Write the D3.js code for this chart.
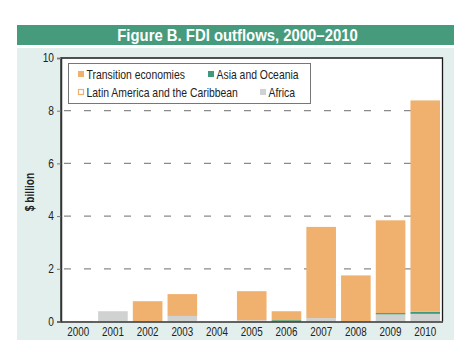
<!DOCTYPE html>
<html>
<head>
<meta charset="utf-8">
<script src="https://cdn.jsdelivr.net/npm/d3@7"></script>
<style>
  body { margin: 0; background: #fff; }
  text { font-family: "Liberation Sans Narrow", "Arial Narrow", "Liberation Sans", sans-serif; }
</style>
</head>
<body>
<div id="chart"></div>
<script>
// DATA
let years = ['2000', '2001', '2002', '2003', '2004', '2005', '2006', '2007', '2008', '2009', '2010'];
let transition = [0.02, 0, 0.77, 0.83, 0, 1.10, 0.34, 3.46, 1.75, 3.52, 8.02];
let asia = [0, 0, 0, 0, 0, 0, 0.05, 0, 0, 0.05, 0.08];
let latam = [0, 0, 0, 0, 0, 0, 0, 0, 0, 0, 0];
let africa = [0, 0.39, 0, 0.21, 0, 0.05, 0, 0.13, 0, 0.27, 0.29];
let yTicks = [0, 2, 4, 6, 8, 10];

let seriesNames = ['Africa', 'Latin America and the Caribbean', 'Asia and Oceania', 'Transition economies'];
let colors = {
    'Transition economies': '#f0b16e',
    'Asia and Oceania': '#3e9a78',
    'Latin America and the Caribbean': '#f0b16e',
    'Africa': '#d0d1d1'
};

let width = 470, height = 362;
let plot = {left: 61, right: 442.5, top: 58, bottom: 321.5};

// squeeze text horizontally, since no narrow font is installed
function condense(sel, k) {
    sel.each(function() {
        let t = d3.select(this);
        let x0 = +t.attr('x') || 0;
        t.attr('x', x0 / k)
            .attr('transform', (t.attr('transform') || '') + ` scale(${k},1)`);
    });
}

let svg = d3.select('#chart').append('svg')
    .attr('width', width)
    .attr('height', height);

// title banner + panel
svg.append('rect').attr('x', 17).attr('y', 25).attr('width', 437).attr('height', 20).attr('fill', '#469b7d');
svg.append('text')
    .attr('transform', 'translate(237.5,40.5)')
    .attr('text-anchor', 'middle')
    .attr('fill', '#fff')
    .style('font-size', '16px')
    .style('font-weight', 'bold')
    .text('Figure B. FDI outflows, 2000\u20132010')
    .call(condense, 0.93);

svg.append('rect').attr('x', 17).attr('y', 48).attr('width', 437).attr('height', 292).attr('fill', '#e3efec');
svg.append('rect')
    .attr('x', plot.left).attr('y', plot.top)
    .attr('width', plot.right - plot.left).attr('height', plot.bottom - plot.top)
    .attr('fill', '#fff');

let table = years.map((y, i) => ({
    year: y,
    'Transition economies': transition[i],
    'Asia and Oceania': asia[i],
    'Latin America and the Caribbean': latam[i],
    'Africa': africa[i]
}));

let x = d3.scaleBand()
    .domain(years)
    .range([plot.left, plot.right])
    .paddingInner(0.147)
    .paddingOuter(0.07);

let y = d3.scaleLinear()
    .domain([0, 10])
    .range([plot.bottom, plot.top]);

// gridlines
svg.append('g')
    .selectAll('line')
    .data(yTicks.filter(t => t > 0 && t < 10))
    .enter()
    .append('line')
    .attr('x1', plot.left + 3).attr('x2', plot.right)
    .attr('y1', d => y(d)).attr('y2', d => y(d))
    .attr('stroke', '#8a8a8a')
    .attr('stroke-width', 1.2)
    .attr('stroke-dasharray', '7,13');

// bars
let stacked = d3.stack().keys(seriesNames)(table);

svg.append('g')
    .selectAll('g')
    .data(stacked)
    .enter()
    .append('g')
    .attr('fill', d => colors[d.key])
    .selectAll('rect')
    .data(d => d)
    .enter()
    .append('rect')
    .attr('x', d => x(d.data.year))
    .attr('width', x.bandwidth())
    .attr('y', d => y(d[1]))
    .attr('height', d => y(d[0]) - y(d[1]));

// frame
svg.append('path')
    .attr('d', `M${plot.left},${plot.bottom}V${plot.top}H${plot.right}V${plot.bottom}`)
    .attr('fill', 'none')
    .attr('stroke', '#1a1a1a')
    .attr('stroke-width', 1.3);

// y axis
let yAxis = svg.append('g')
    .attr('transform', `translate(${plot.left},0)`)
    .call(d3.axisLeft(y).tickValues(yTicks).tickSize(4).tickPadding(3));
yAxis.select('.domain').attr('stroke', '#333').attr('stroke-width', 1.5);
yAxis.selectAll('.tick line').attr('stroke', '#777');
yAxis.selectAll('text').style('font-size', '12px').attr('fill', '#222').call(condense, 0.85);

// x axis
let xAxis = svg.append('g')
    .attr('transform', `translate(0,${plot.bottom})`)
    .call(d3.axisBottom(x).tickSize(0).tickPadding(6));
xAxis.select('.domain').attr('stroke', '#333').attr('stroke-width', 1.5);
xAxis.selectAll('text').style('font-size', '12px').attr('fill', '#222').call(condense, 0.82);

svg.append('text')
    .attr('transform', 'translate(34,192) rotate(-90)')
    .attr('text-anchor', 'middle')
    .style('font-size', '12px')
    .style('font-weight', 'bold')
    .attr('fill', '#222')
    .text('$ billion')
    .call(condense, 0.85);

// legend
svg.append('rect')
    .attr('x', 68.5).attr('y', 63.5).attr('width', 242).attr('height', 40)
    .attr('fill', '#fff').attr('stroke', '#777');

let legendItems = [
    {name: 'Transition economies', x: 78, y: 74, hollow: false},
    {name: 'Asia and Oceania', x: 208, y: 74, hollow: false},
    {name: 'Latin America and the Caribbean', x: 78, y: 92, hollow: true},
    {name: 'Africa', x: 260, y: 92, hollow: false}
];

let lg = svg.append('g').selectAll('g')
    .data(legendItems)
    .enter()
    .append('g')
    .attr('transform', d => `translate(${d.x},${d.y})`);

lg.append('rect')
    .attr('x', d => d.hollow ? 0.5 : 0).attr('y', d => d.hollow ? -2.5 : -3)
    .attr('width', d => d.hollow ? 5 : 6).attr('height', d => d.hollow ? 5 : 6)
    .attr('fill', d => d.hollow ? '#fff' : colors[d.name])
    .attr('stroke', d => d.hollow ? colors[d.name] : 'none')
    .attr('stroke-width', 1.2);

lg.append('text')
    .attr('transform', 'translate(8.5,4.5)')
    .style('font-size', '13px')
    .attr('fill', '#222')
    .text(d => d.name)
    .call(condense, 0.8);
</script>
</body>
</html>
